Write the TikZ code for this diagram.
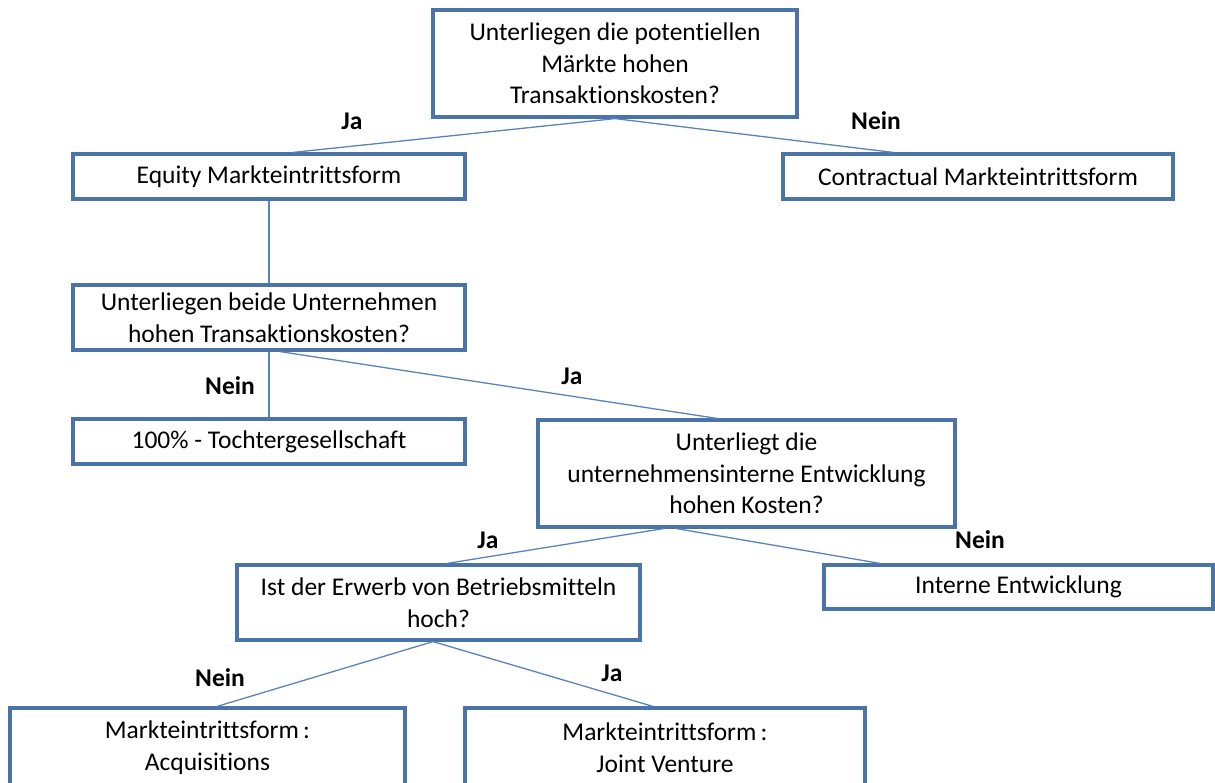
\documentclass[tikz,border=0pt]{standalone}
\usepackage{fontspec}
\setmainfont{Carlito}[Ligatures=NoCommon]
\begin{document}
\begin{tikzpicture}[x=1pt,y=-1pt,
  box/.style={draw=boxblue, line width=3.2pt, fill=white, align=center,
    inner sep=0pt, font=\fontsize{25.5}{31.5}\selectfont},
  link/.style={draw=lineblue, line width=1.3pt},
  answer/.style={font=\fontsize{25.5}{30}\selectfont\bfseries, inner sep=0pt}]
\definecolor{boxblue}{HTML}{4A74A8}
\definecolor{lineblue}{HTML}{5A84B8}
\useasboundingbox (0,0) rectangle (1215,782);
\begin{scope}
\clip (0,0) rectangle (1215,782);
% decision tree boxes
\node[box, minimum width=364pt, minimum height=107pt] (top) at (615,63.5)
  {Unterliegen die potentiellen\\Märkte hohen\\Transaktionskosten?};
\node[box, minimum width=392pt, minimum height=45pt] (eq) at (269,176.5)
  {Equity Markteintrittsform};
\node[box, minimum width=390pt, minimum height=45pt] (con) at (978,176.5)
  {Contractual Markteintrittsform};
\node[box, minimum width=392pt, minimum height=65pt] (beide) at (269,317.5)
  {Unterliegen beide Unternehmen\\hohen Transaktionskosten?};
\node[box, minimum width=392pt, minimum height=45pt] (tochter) at (269,441.5)
  {100\% - Tochtergesellschaft};
\node[box, minimum width=417pt, minimum height=107pt] (intern) at (746.5,473.5)
  {Unterliegt die\\unternehmensinterne Entwicklung\\hohen Kosten?};
\node[box, minimum width=403pt, minimum height=75pt] (erwerb) at (438.5,602.5)
  {Ist der Erwerb von Betriebsmitteln\\hoch?};
\node[box, minimum width=389pt, minimum height=44pt] (ie) at (1018.5,587)
  {Interne Entwicklung};
\node[box, minimum width=395pt, minimum height=79pt] (acq) at (207.5,747.5)
  {Markteintrittsform\,:\\Acquisitions};
\node[box, minimum width=400pt, minimum height=79pt] (jv) at (665,747.5)
  {Markteintrittsform\,:\\Joint Venture};
\end{scope}
% connectors
\draw[link] (top.south) -- ([xshift=24pt]eq.north);
\draw[link] (top.south) -- ([xshift=-85pt]con.north);
\draw[link] (eq.south) -- (beide.north);
\draw[link] (beide.south) -- (tochter.north);
\draw[link] ([xshift=11pt]beide.south) -- ([xshift=-29.5pt]intern.north);
\draw[link] ([xshift=-83pt]intern.south) -- ([xshift=8.5pt]erwerb.north);
\draw[link] ([xshift=-70pt]intern.south) -- ([xshift=-138.5pt]ie.north);
\draw[link] ([xshift=-5.5pt]erwerb.south) -- ([xshift=9.5pt]acq.north);
\draw[link] ([xshift=-5.5pt]erwerb.south) -- ([xshift=-12pt]jv.north);
% branch answers
\node[answer] (a1) at (352,121) {Ja};
\node[answer] (a2) at (876,121) {Nein};
\node[answer] (a3) at (230,386) {Nein};
\node[answer] (a4) at (572,376) {Ja};
\node[answer] (a5) at (488,540) {Ja};
\node[answer] (a6) at (980,540) {Nein};
\node[answer] (a7) at (220,678) {Nein};
\node[answer] (a8) at (612,673) {Ja};
\end{tikzpicture}
\end{document}
